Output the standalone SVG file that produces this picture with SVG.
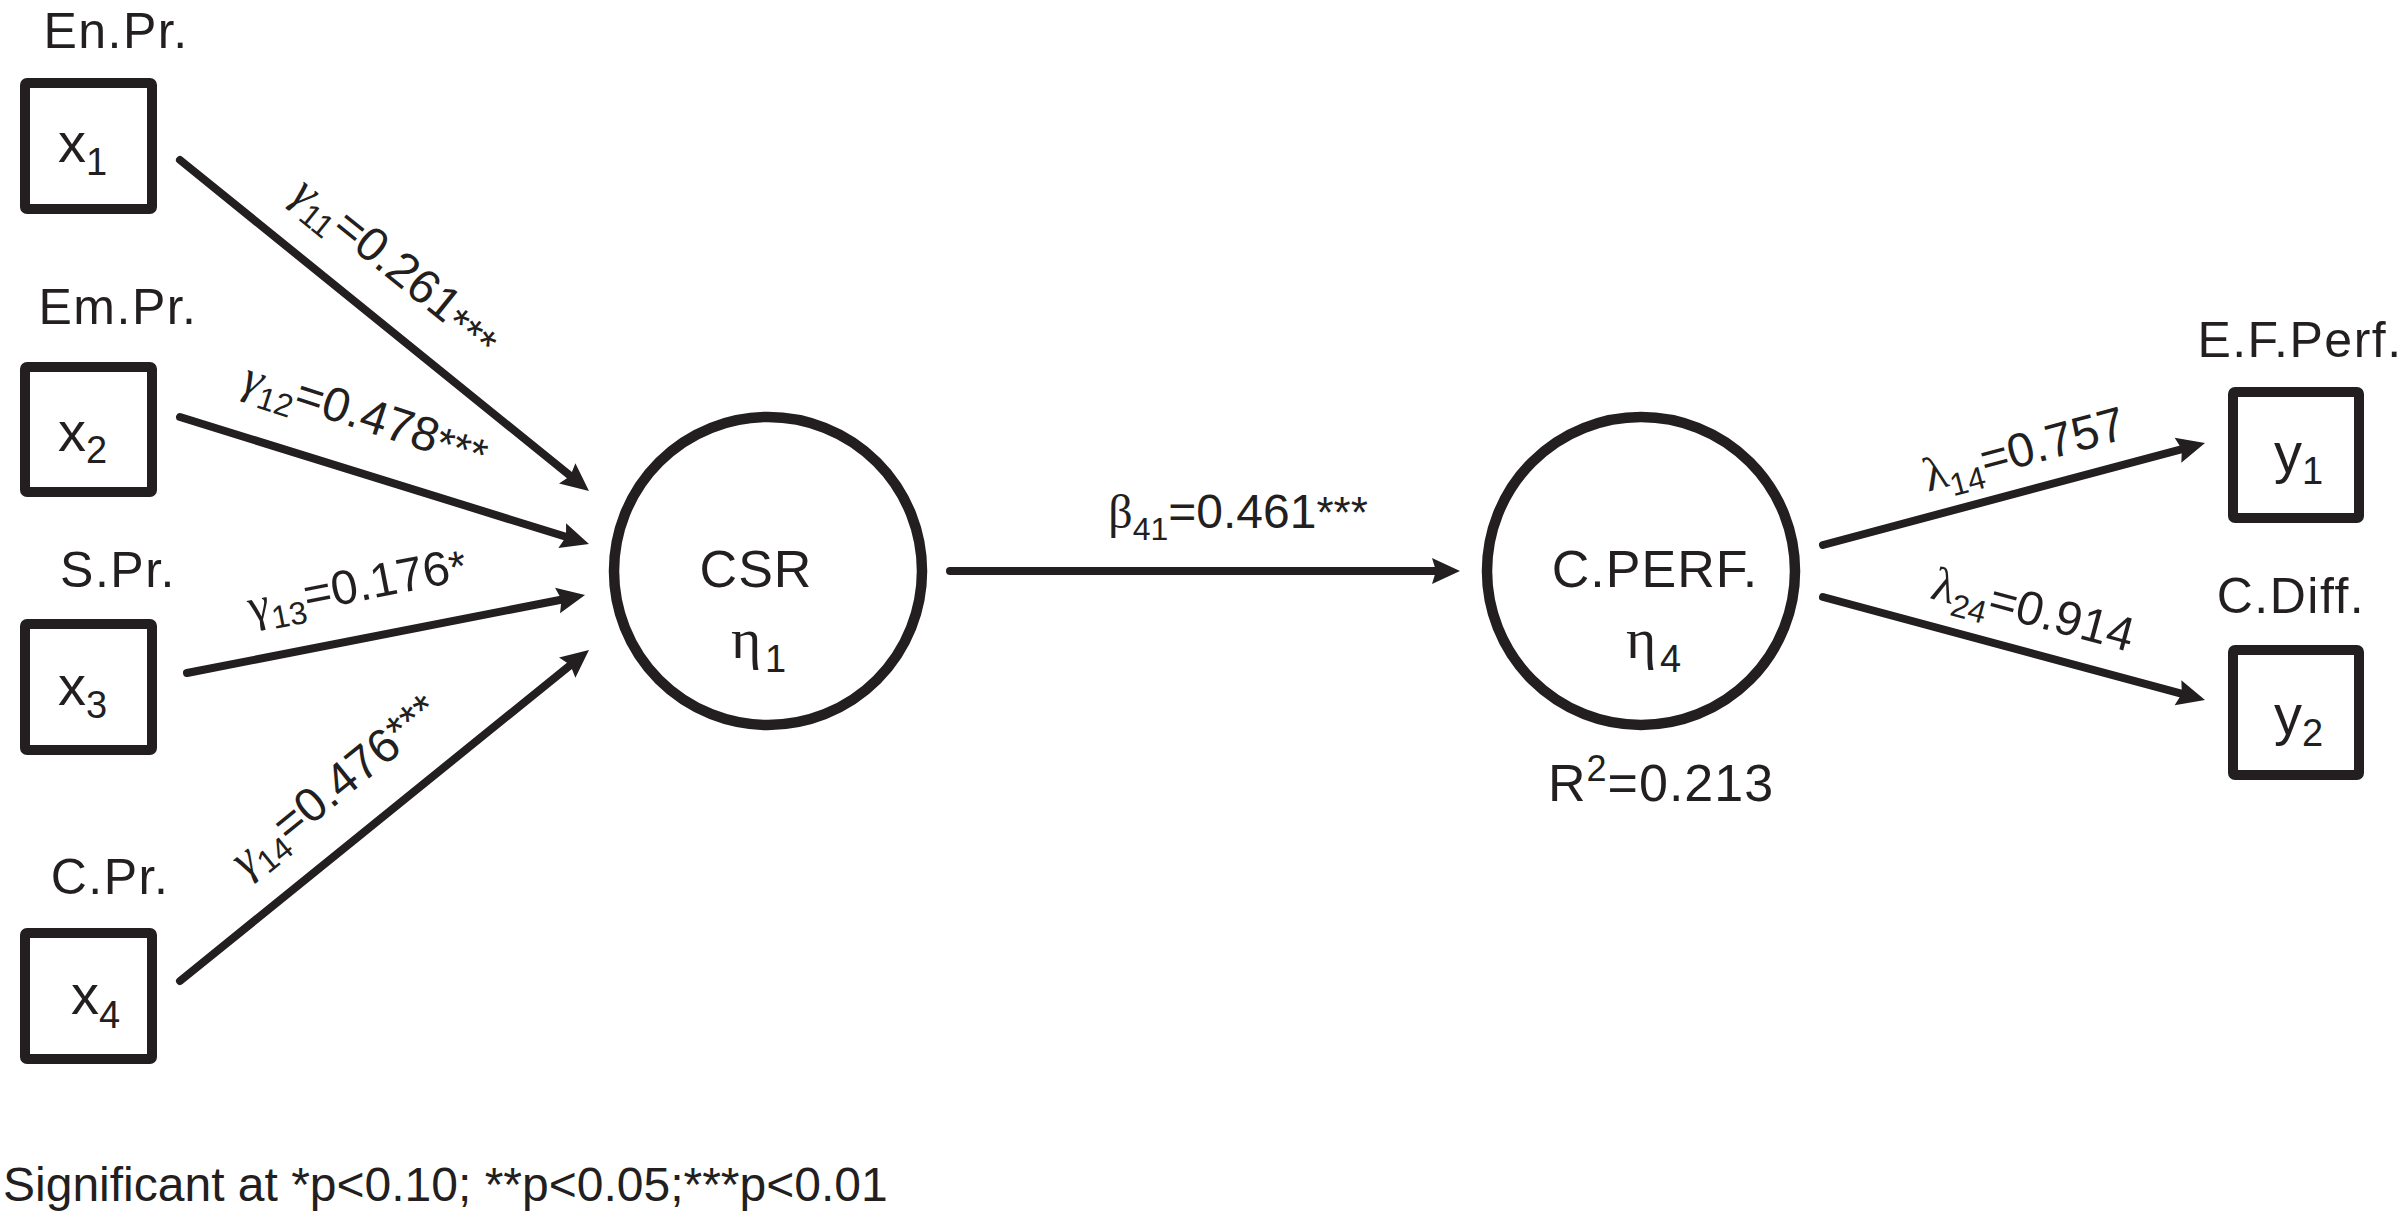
<svg xmlns="http://www.w3.org/2000/svg" width="2406" height="1226" viewBox="0 0 2406 1226">
<style>
text{font-family:"Liberation Sans",Arial,sans-serif;fill:#231f20}
.lbl{font-size:50px;letter-spacing:1.5px}
.big{font-size:52px;letter-spacing:1px}
.var{font-size:56px}
.sub{font-size:38px}
.gr{font-family:"Liberation Serif","DejaVu Serif",serif}
.gi{font-family:"Liberation Serif","DejaVu Serif",serif;font-style:italic}
.edge{font-size:48px}
.es{font-size:32px}
.ast{font-size:44px}
.foot{font-size:48px}
.box{fill:#fff;stroke:#231f20;stroke-width:10;stroke-linejoin:round}
.circ{fill:#fff;stroke:#231f20;stroke-width:10.5}
.conn{fill:none;stroke:#231f20;stroke-width:8;stroke-linecap:round;marker-end:url(#ah)}
</style>
<defs>
<marker id="ah" markerUnits="userSpaceOnUse" markerWidth="30" markerHeight="28" refX="14" refY="14" orient="auto" overflow="visible">
<path d="M28,14 L0,1 L4,14 L0,27 Z" fill="#231f20"/>
</marker>
</defs>
<rect width="2406" height="1226" fill="#fff"/>

<g id="connectors">
<line class="conn" x1="180" y1="160" x2="578.1" y2="482.2"/>
<line class="conn" x1="180" y1="417" x2="575.6" y2="539.8"/>
<line class="conn" x1="187" y1="673" x2="571.3" y2="597.7"/>
<line class="conn" x1="180" y1="981" x2="578.1" y2="658.8"/>
<line class="conn" x1="950" y1="571" x2="1446" y2="571"/>
<line class="conn" x1="1823" y1="545" x2="2191.5" y2="446.6"/>
<line class="conn" x1="1823" y1="597" x2="2191.5" y2="696.4"/>

<text class="edge" text-anchor="middle" transform="translate(387,277.5) rotate(39)"><tspan class="gi">γ</tspan><tspan class="es" dy="11">11</tspan><tspan dy="-11">=0.261</tspan><tspan class="ast" dy="6">***</tspan></text>
<text class="edge" text-anchor="middle" transform="translate(361,430) rotate(18)"><tspan class="gi">γ</tspan><tspan class="es" dy="11">12</tspan><tspan dy="-11">=0.478</tspan><tspan class="ast" dy="2">***</tspan></text>
<text class="edge" text-anchor="middle" transform="translate(360,601) rotate(-11.1)"><tspan class="gr">γ</tspan><tspan class="es" dy="11">13</tspan><tspan dy="-11">=0.176</tspan><tspan class="ast">*</tspan></text>
<text class="edge" text-anchor="middle" transform="translate(345,798) rotate(-39)"><tspan class="gi">γ</tspan><tspan class="es" dy="11">14</tspan><tspan dy="-11">=0.476</tspan><tspan class="ast" dy="-4">***</tspan></text>
<text class="edge" text-anchor="middle" x="1238" y="528"><tspan class="gr">β</tspan><tspan class="es" dy="12">41</tspan><tspan dy="-12">=0.461</tspan><tspan class="ast">***</tspan></text>
<text class="edge" text-anchor="middle" transform="translate(2028,465) rotate(-15)"><tspan class="gr">λ</tspan><tspan class="es" dy="11">14</tspan><tspan dy="-11">=0.757</tspan></text>
<text class="edge" text-anchor="middle" transform="translate(2029,625) rotate(15.1)"><tspan class="gr">λ</tspan><tspan class="es" dy="11">24</tspan><tspan dy="-11">=0.914</tspan></text>
</g>

<g id="x1">
<text class="lbl" x="116" y="48" text-anchor="middle">En.Pr.</text>
<rect class="box" x="25" y="83" width="127" height="126" rx="2"/>
<text class="var" x="58" y="162">x<tspan class="sub" dy="13">1</tspan></text>
</g>
<g id="x2">
<text class="lbl" x="118" y="324" text-anchor="middle">Em.Pr.</text>
<rect class="box" x="25" y="367" width="127" height="125" rx="2"/>
<text class="var" x="58" y="451">x<tspan class="sub" dy="12">2</tspan></text>
</g>
<g id="x3">
<text class="lbl" x="118" y="587" text-anchor="middle">S.Pr.</text>
<rect class="box" x="25" y="624" width="127" height="126" rx="2"/>
<text class="var" x="58" y="705">x<tspan class="sub" dy="13">3</tspan></text>
</g>
<g id="x4">
<text class="lbl" x="110" y="894" text-anchor="middle">C.Pr.</text>
<rect class="box" x="25" y="933" width="127" height="126" rx="2"/>
<text class="var" x="71" y="1014">x<tspan class="sub" dy="14">4</tspan></text>
</g>

<g id="csr">
<circle class="circ" cx="768" cy="571" r="154"/>
<text class="big" x="756" y="587" text-anchor="middle">CSR</text>
<text y="658"><tspan class="gr" x="731" font-size="58">η</tspan><tspan class="sub" x="765" y="672">1</tspan></text>
</g>

<g id="cperf">
<circle class="circ" cx="1641" cy="571" r="154"/>
<text class="big" x="1655" y="587" text-anchor="middle">C.PERF.</text>
<text y="658"><tspan class="gr" x="1626" font-size="58">η</tspan><tspan class="sub" x="1660" y="672">4</tspan></text>
<text class="big" x="1548" y="801">R<tspan font-size="36" dy="-20">2</tspan><tspan dy="20">=0.213</tspan></text>
</g>

<g id="y1">
<text class="lbl" x="2300" y="357" text-anchor="middle">E.F.Perf.</text>
<rect class="box" x="2233" y="392" width="126" height="126" rx="2"/>
<text class="var" x="2274" y="472">y<tspan class="sub" dy="12">1</tspan></text>
</g>
<g id="y2">
<text class="lbl" x="2291" y="613" text-anchor="middle">C.Diff.</text>
<rect class="box" x="2233" y="650" width="126" height="125" rx="2"/>
<text class="var" x="2274" y="734">y<tspan class="sub" dy="12">2</tspan></text>
</g>

<text class="foot" x="3" y="1201">Significant at *p&lt;0.10; **p&lt;0.05;***p&lt;0.01</text>
</svg>
